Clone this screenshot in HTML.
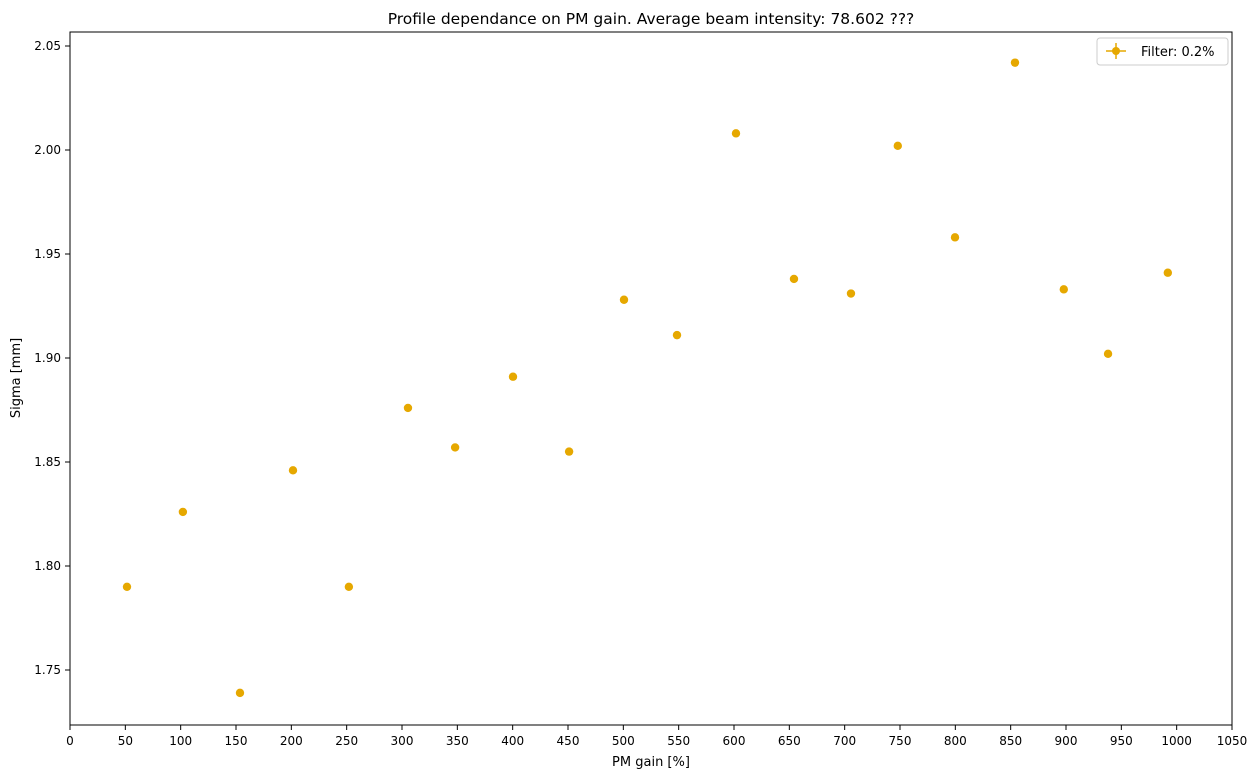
<!DOCTYPE html>
<html><head><meta charset="utf-8"><style>
body{margin:0;background:#fff;font-family:"Liberation Sans","DejaVu Sans",sans-serif}
svg text{font-family:"DejaVu Sans","Liberation Sans",sans-serif}
</style></head><body>
<svg id="chart" width="1260" height="778" xmlns="http://www.w3.org/2000/svg">
<rect width="1260" height="778" fill="#fff"/>
<text x="651" y="24" font-size="15.5" text-anchor="middle">Profile dependance on PM gain. Average beam intensity: 78.602 ???</text>
<g id="axes"></g>
<g id="points"></g>
<rect x="70" y="32" width="1162" height="693" fill="none" stroke="#000" stroke-width="1"/>
<text x="651" y="766" font-size="13" text-anchor="middle">PM gain [%]</text>
<text transform="translate(20,378) rotate(-90)" font-size="13" text-anchor="middle">Sigma [mm]</text>
<g>
<rect x="1097" y="38" width="131" height="27" rx="3" fill="#fff" stroke="#ccc"/>
<line x1="1106" y1="51" x2="1126" y2="51" stroke="#e6a800" stroke-width="1.5"/>
<line x1="1116" y1="43" x2="1116" y2="59" stroke="#e6a800" stroke-width="1.5"/>
<circle cx="1116" cy="51" r="4" fill="#e6a800"/>
<text x="1141" y="56" font-size="13">Filter: 0.2%</text>
</g>
</svg>
<script>
const xValues=[51.5,102,153.6,201.5,252,305.4,348,400.3,451,500.6,548.5,601.8,654.2,705.7,748,799.7,853.9,898,938,992];
const yValues=[1.790,1.826,1.739,1.846,1.790,1.876,1.857,1.891,1.855,1.928,1.911,2.008,1.938,1.931,2.002,1.958,2.042,1.933,1.902,1.941];
const xTicks=[0,50,100,150,200,250,300,350,400,450,500,550,600,650,700,750,800,850,900,950,1000,1050];
const yTicks=[1.75,1.80,1.85,1.90,1.95,2.00,2.05];
const NS="http://www.w3.org/2000/svg";
const sx=v=>70+v*1162/1050;
const sy=v=>670-(v-1.75)*2080;
const axes=document.getElementById('axes'),pts=document.getElementById('points');
function mk(t,a,p){const e=document.createElementNS(NS,t);for(const k in a)e.setAttribute(k,a[k]);p.appendChild(e);return e;}
xTicks.forEach(v=>{
 const l=mk('line',{x1:sx(v),x2:sx(v),y1:725,y2:730,stroke:'#000'},axes);
 
 
 const t=mk('text',{x:sx(v),y:745,'font-size':12,'text-anchor':'middle'},axes);t.textContent=v;
 
 
});
yTicks.forEach(v=>{
 const l=mk('line',{x1:65,x2:70,y1:sy(v),y2:sy(v),stroke:'#000'},axes);
 
 
 const t=mk('text',{x:61,y:sy(v)+4,'font-size':12,'text-anchor':'end'},axes);t.textContent=v.toFixed(2);
 
 
});
xValues.forEach((x,i)=>{
 const c=mk('circle',{cx:sx(x),cy:sy(yValues[i]),r:4.2,fill:'#e6a800'},pts);
 
 
});
</script>
</body></html>
